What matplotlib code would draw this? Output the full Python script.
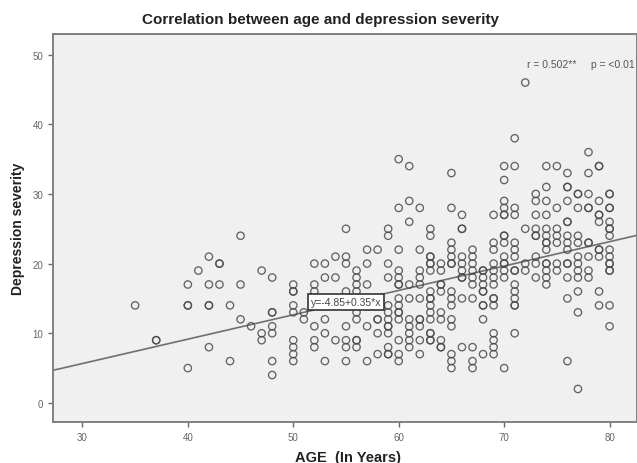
import matplotlib
matplotlib.use("Agg")
import matplotlib.pyplot as plt
import numpy as np

# ---- data ----
ages = [35, 37, 40, 41, 42, 43, 44, 45, 46, 47, 48, 50, 51, 52, 53, 54, 55, 56, 57, 58,
        59, 60, 61, 62, 63, 64, 65, 66, 67, 68, 69, 70, 71, 72, 73, 74, 75, 76, 77, 78, 79, 80]
severity_at_age = [
    [14],
    [9, 9],
    [17, 14, 14, 5],
    [19],
    [21, 17, 14, 14, 8],
    [20, 20, 17],
    [14, 6],
    [24, 17, 12],
    [11],
    [19, 10, 9],
    [18, 13, 13, 11, 10, 6, 4],
    [17, 16, 16, 14, 13, 9, 8, 7, 6],
    [13, 12],
    [20, 17, 16, 11, 9, 8],
    [20, 18, 12, 10, 6],
    [21, 18, 9],
    [25, 21, 20, 16, 11, 9, 8, 6],
    [19, 18, 17, 16, 13, 12, 9, 9, 8],
    [22, 20, 17, 11, 6],
    [22, 12, 12, 10, 7],
    [25, 24, 20, 18, 14, 13, 12, 11, 11, 10, 8, 7, 7],
    [35, 28, 22, 19, 18, 17, 17, 15, 14, 13, 13, 12, 9, 7, 6],
    [34, 29, 26, 17, 15, 12, 11, 10, 9, 8],
    [28, 22, 19, 18, 17, 15, 12, 12, 11, 9, 7],
    [25, 24, 21, 21, 20, 20, 19, 16, 15, 15, 14, 13, 12, 10, 10, 9, 9],
    [20, 19, 17, 17, 16, 13, 12, 9, 8, 8],
    [33, 28, 23, 22, 21, 20, 20, 16, 15, 14, 12, 11, 7, 6, 5],
    [27, 25, 25, 21, 20, 19, 18, 18, 15, 8],
    [22, 21, 20, 19, 18, 17, 15, 8, 6, 5],
    [19, 19, 18, 17, 16, 16, 14, 14, 12, 7],
    [27, 23, 22, 20, 19, 18, 17, 15, 15, 14, 10, 9, 8, 7],
    [34, 32, 29, 28, 27, 27, 24, 24, 23, 21, 20, 20, 19, 18, 5],
    [38, 34, 28, 27, 23, 22, 21, 19, 19, 17, 16, 15, 14, 14, 10],
    [46, 25, 20, 19],
    [30, 29, 27, 25, 24, 24, 21, 20, 18],
    [34, 31, 29, 27, 25, 24, 23, 23, 22, 20, 20, 19, 18, 17],
    [34, 28, 25, 24, 23, 20, 19],
    [33, 31, 31, 29, 26, 26, 24, 23, 22, 20, 20, 18, 15, 6],
    [30, 30, 28, 24, 23, 21, 20, 19, 18, 16, 13, 2],
    [36, 33, 30, 28, 28, 23, 23, 21, 19, 18],
    [34, 34, 29, 27, 27, 26, 22, 22, 21, 16, 14],
    [30, 30, 28, 28, 26, 25, 25, 24, 22, 21, 20, 20, 19, 19, 14, 11],
]
fit_intercept = -4.85
fit_slope = 0.35
equation_label = "y=-4.85+0.35*x"
stats_label = "r = 0.502**     p = <0.01"
x_ticks = [30, 40, 50, 60, 70, 80]
y_ticks = [0, 10, 20, 30, 40, 50]

age = [a for a, vals in zip(ages, severity_at_age) for _ in vals]
severity = [v for vals in severity_at_age for v in vals]

# ---- figure ----
plt.rcParams['font.family'] = ['Liberation Sans', 'DejaVu Sans']
fig = plt.figure(figsize=(6.37, 4.64), dpi=100)
ax = fig.add_axes([0.083, 0.088, 0.917, 0.837])
ax.set_facecolor('#f0f0f0')

xlim = (27.2, 82.6)
ylim = (-2.77, 53.0)
ax.set_xlim(*xlim)
ax.set_ylim(*ylim)

ax.scatter(age, severity, s=28, facecolors='none', edgecolors='#4a4a4a',
           linewidths=0.95, alpha=0.85, zorder=3)

xs = np.array(xlim)
ax.plot(xs, fit_intercept + fit_slope * xs, color='#707070', lw=1.2, zorder=2)

ax.text(55.0, 14.5, equation_label, ha='center', va='center', fontsize=7.5,
        color='#444444', zorder=5,
        bbox=dict(boxstyle='square,pad=0.3', facecolor='white',
                  edgecolor='#333333', linewidth=1.2))

ax.text(82.4, 48.6, stats_label, ha='right', va='center', fontsize=7.5,
        color='#555555', zorder=5)

ax.set_xticks(x_ticks)
ax.set_yticks(y_ticks)
ax.tick_params(axis='both', labelsize=7, labelcolor='#666666', color='#666666',
               length=3.5, width=1.0, direction='out')
for side in ['left', 'bottom', 'top', 'right']:
    ax.spines[side].set_color('#808080')
    ax.spines[side].set_linewidth(1.4)

fig.text(0.547, 0.014, 'AGE  (In Years)', ha='center', va='center',
         fontsize=10.5, fontweight='bold', color='#222222')
fig.text(0.029, 0.506, 'Depression severity', ha='center', va='center', rotation=90,
         fontsize=10, fontweight='bold', color='#222222')
fig.text(0.503, 0.957, 'Correlation between age and depression severity', ha='center',
         va='center', fontsize=11, fontweight='bold', color='#222222')

fig.savefig('out.png', dpi=100, facecolor='white')
